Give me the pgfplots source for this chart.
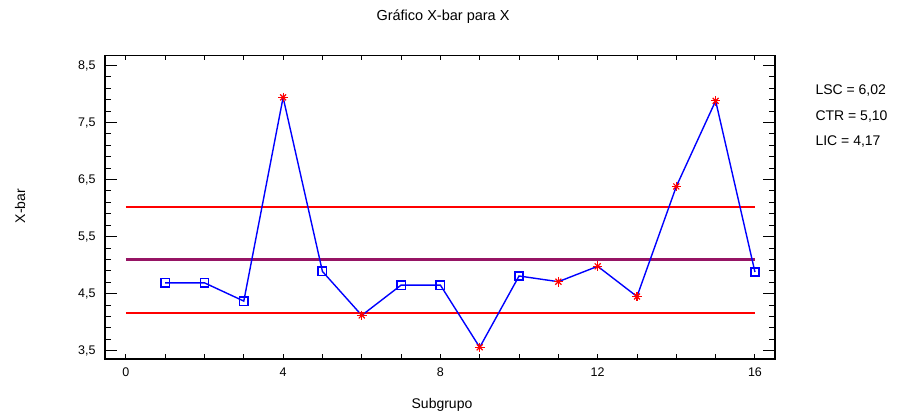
\documentclass[border=0pt]{standalone}
\usepackage{pgfplots}
\pgfplotsset{compat=1.18}
\usepackage{fontspec}
\setmainfont{Liberation Sans}
\definecolor{ctrcol}{RGB}{150,20,100}
\pgfplotstableread{
x y
4 7.94
6 4.12
9 3.56
11 4.71
12 4.98
13 4.45
14 6.38
15 7.88
}\outpts
\begin{document}
\begin{tikzpicture}[x=1bp,y=1bp]
\useasboundingbox (0,0) rectangle (898,417);
\begin{axis}[
  at={(105bp,58bp)}, anchor=south west,
  scale only axis, width=670bp, height=303.5bp,
  xmin=-0.53, xmax=16.51, ymin=3.355, ymax=8.675,
  xtick={0,4,8,12,16}, minor x tick num=3,
  ytick={3.5,4.5,5.5,6.5,7.5,8.5}, minor y tick num=4,
  tick align=inside, tick pos=both,
  major tick length=12bp, minor tick length=6bp,
  x tick style={/pgfplots/major tick length=5bp,/pgfplots/minor tick length=5bp},
  axis line style={line width=1.4bp},
  tick style={black, line width=1bp},
  /pgf/number format/assume math mode=true,
  yticklabel style={/pgf/number format/fixed, /pgf/number format/fixed zerofill, /pgf/number format/precision=1, /pgf/number format/use comma, xshift=-6bp},
  tick label style={font=\fontsize{12.5bp}{14bp}\selectfont},
  xticklabel style={yshift=-5bp},
  clip=false,
]
\addplot[red, line width=2bp] coordinates {(0,6.02) (16,6.02)};
\addplot[red, line width=2bp] coordinates {(0,4.17) (16,4.17)};
\addplot[ctrcol, line width=2.2bp] coordinates {(0,5.10) (16,5.10)};
\addplot[blue, line width=1.4bp] table {
x y
1 4.69
2 4.69
3 4.37
4 7.94
5 4.89
6 4.12
7 4.65
8 4.65
9 3.56
10 4.81
11 4.71
12 4.98
13 4.45
14 6.38
15 7.88
16 4.88
};
\addplot[blue, only marks, mark=square, mark size=4.2bp, mark options={line width=1.5bp}] table {
x y
1 4.69
2 4.69
3 4.37
5 4.89
7 4.65
8 4.65
10 4.81
16 4.88
};
\addplot[red, only marks, mark=+, mark size=4.8bp, mark options={line width=1.2bp}] table {\outpts};
\addplot[red, only marks, mark=x, mark size=4.2bp, mark options={line width=1.2bp}] table {\outpts};
\end{axis}
\node[font=\fontsize{14.5bp}{16bp}\selectfont] at (443,400) {Gráfico X-bar para X};
\node[font=\fontsize{14bp}{16bp}\selectfont] at (442,12) {Subgrupo};
\node[font=\fontsize{14bp}{16bp}\selectfont, rotate=90] at (20,211) {X-bar};
\node[font=\fontsize{14bp}{16bp}\selectfont, anchor=west] at (812,326.3) {LSC = 6,02};
\node[font=\fontsize{14bp}{16bp}\selectfont, anchor=west] at (812,300.3) {CTR = 5,10};
\node[font=\fontsize{14bp}{16bp}\selectfont, anchor=west] at (812,275.3) {LIC = 4,17};
\end{tikzpicture}
\end{document}
